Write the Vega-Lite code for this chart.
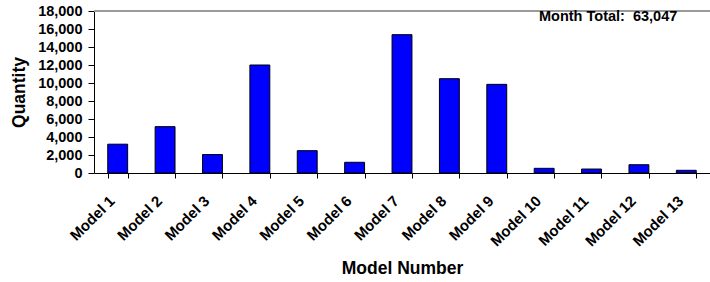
{
  "$schema": "https://vega.github.io/schema/vega-lite/v6.json",
  "width": 616,
  "height": 162,
  "autosize": "none",
  "padding": {"left": 94, "top": 11, "right": 0, "bottom": 109},
  "background": "white",
  "config": {
    "font": "Liberation Sans",
    "view": {"stroke": null},
    "axisY": {
      "labelOverlap": false,
      "labelBound": false,
      "labelFontSize": 14.5,
      "labelFontWeight": "bold",
      "labelColor": "#000000",
      "labelPadding": 6,
      "tickSize": 6,
      "tickColor": "#000000",
      "domainColor": "#000000",
      "grid": false,
      "titleFontSize": 17.5,
      "titleFontWeight": "bold",
      "titleColor": "#000000",
      "titlePadding": 9
    },
    "axisX": {
      "labelAngle": -45,
      "labelFontSize": 15,
      "labelFontWeight": "bold",
      "labelColor": "#000000",
      "labelPadding": 15,
      "labelOffset": -11,
      "labelOverlap": false,
      "labelBound": false,
      "tickBand": "extent",
      "tickSize": 5,
      "tickColor": "#000000",
      "domainColor": "#000000",
      "titleFontSize": 17.5,
      "titleFontWeight": "bold",
      "titleColor": "#000000",
      "titlePadding": 11
    }
  },
  "data": {
    "values": [
      {"model": "Model 1", "qty": 3200},
      {"model": "Model 2", "qty": 5150},
      {"model": "Model 3", "qty": 2050},
      {"model": "Model 4", "qty": 12000},
      {"model": "Model 5", "qty": 2480},
      {"model": "Model 6", "qty": 1190},
      {"model": "Model 7", "qty": 15370},
      {"model": "Model 8", "qty": 10480},
      {"model": "Model 9", "qty": 9850},
      {"model": "Model 10", "qty": 520},
      {"model": "Model 11", "qty": 440},
      {"model": "Model 12", "qty": 920},
      {"model": "Model 13", "qty": 300}
    ]
  },
  "layer": [
    {
      "mark": {"type": "bar", "fill": "#0000FF", "stroke": "#000000", "strokeWidth": 1},
      "encoding": {
        "x": {
          "field": "model",
          "type": "nominal",
          "sort": null,
          "scale": {"paddingInner": 0.58, "paddingOuter": 0.29},
          "axis": {"title": "Model Number"}
        },
        "y": {
          "field": "qty",
          "type": "quantitative",
          "scale": {"domain": [0, 18000], "nice": false},
          "axis": {
            "title": "Quantity",
            "values": [0, 2000, 4000, 6000, 8000, 10000, 12000, 14000, 16000, 18000],
            "format": ",d"
          }
        }
      }
    },
    {
      "mark": {"type": "rule", "color": "#999999", "strokeWidth": 1},
      "encoding": {
        "y": {
          "datum": 18000,
          "type": "quantitative",
          "axis": {
            "title": "Quantity",
            "values": [0, 2000, 4000, 6000, 8000, 10000, 12000, 14000, 16000, 18000],
            "format": ",d"
          }
        }
      }
    },
    {
      "data": {"values": [{"label": "Month Total:\u00a0 63,047", "model": "Model 13", "pos": 16900}]},
      "mark": {
        "type": "text",
        "align": "right",
        "baseline": "alphabetic",
        "dx": -9,
        "fontSize": 14.5,
        "fontWeight": "bold",
        "color": "#000000"
      },
      "encoding": {
        "text": {"field": "label"},
        "x": {"field": "model", "type": "nominal", "sort": null, "axis": {"title": "Model Number"}},
        "y": {
          "field": "pos",
          "type": "quantitative",
          "axis": {
            "title": "Quantity",
            "values": [0, 2000, 4000, 6000, 8000, 10000, 12000, 14000, 16000, 18000],
            "format": ",d"
          }
        }
      }
    }
  ]
}
